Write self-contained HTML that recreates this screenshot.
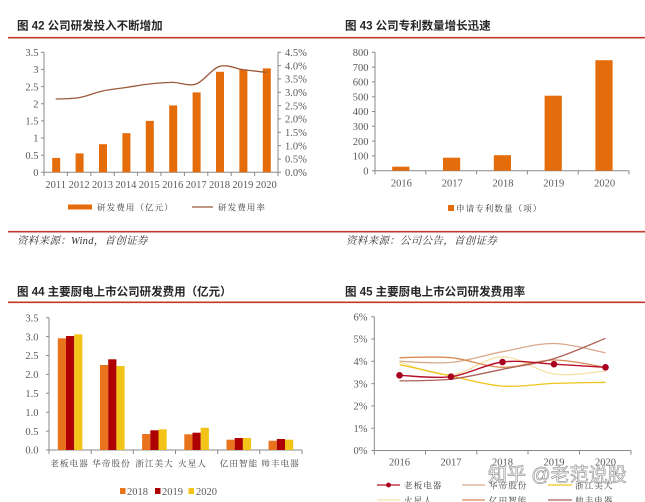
<!DOCTYPE html>
<html><head><meta charset="utf-8"><style>
html,body{margin:0;padding:0;background:#fff;}
svg{display:block;}
.t{font-family:"Liberation Sans","Noto Sans CJK SC",sans-serif;font-size:11.5px;font-weight:bold;fill:#262626;}
.n{font-family:"Liberation Serif","Noto Serif CJK SC",serif;font-size:10.5px;fill:#595959;}
.c{font-family:"Liberation Serif","Noto Serif CJK SC",serif;font-size:8.6px;letter-spacing:1px;fill:#404040;}
.s{font-family:"Liberation Serif","Noto Serif CJK SC",serif;font-size:10.5px;font-style:italic;fill:#333;letter-spacing:0.3px;}
.ax{stroke:#8a8a8a;stroke-width:1;fill:none;}
</style></head><body>
<svg width="645" height="502" viewBox="0 0 645 502" xmlns="http://www.w3.org/2000/svg">
<rect width="645" height="502" fill="#fff"/>
<!-- titles -->
<text class="t" x="17" y="29.5">图 42 公司研发投入不断增加</text>
<text class="t" x="345" y="29.5">图 43 公司专利数量增长迅速</text>
<text class="t" x="17" y="295.5">图 44 主要厨电上市公司研发费用（亿元）</text>
<text class="t" x="345" y="295.5">图 45 主要厨电上市公司研发费用率</text>
<line x1="8" y1="37.7" x2="645" y2="37.7" stroke="#C0392B" stroke-width="1.6"/>
<line x1="8" y1="231.7" x2="645" y2="231.7" stroke="#C0392B" stroke-width="1.6"/>
<line x1="8" y1="302.3" x2="645" y2="302.3" stroke="#C0392B" stroke-width="1.6"/>
<text class="s" x="17" y="244">资料来源：Wind，首创证券</text>
<text class="s" x="346" y="244">资料来源：公司公告，首创证券</text>

<!-- ===== Chart 42 ===== -->
<g>
<path class="ax" d="M44,52.3V172.3H278M278,52.3V172.3"/>
<path class="ax" d="M41,52.3H44M41,69.4H44M41,86.6H44M41,103.7H44M41,120.9H44M41,138H44M41,155.2H44M41,172.3H44"/>
<path class="ax" d="M278,52.3H281M278,65.6H281M278,78.9H281M278,92.3H281M278,105.6H281M278,118.9H281M278,132.3H281M278,145.6H281M278,159H281M278,172.3H281"/>
<path class="ax" d="M44,172.3V176M67.4,172.3V176M90.8,172.3V176M114.2,172.3V176M137.6,172.3V176M161,172.3V176M184.4,172.3V176M207.8,172.3V176M231.2,172.3V176M254.6,172.3V176M278,172.3V176"/>
<g class="n" text-anchor="end">
<text x="38.5" y="56">3.5</text><text x="38.5" y="73.1">3</text><text x="38.5" y="90.3">2.5</text><text x="38.5" y="107.4">2</text><text x="38.5" y="124.6">1.5</text><text x="38.5" y="141.7">1</text><text x="38.5" y="158.9">0.5</text><text x="38.5" y="176">0</text>
</g>
<g class="n">
<text x="285" y="56">4.5%</text><text x="285" y="69.3">4.0%</text><text x="285" y="82.6">3.5%</text><text x="285" y="96">3.0%</text><text x="285" y="109.3">2.5%</text><text x="285" y="122.6">2.0%</text><text x="285" y="136">1.5%</text><text x="285" y="149.3">1.0%</text><text x="285" y="162.7">0.5%</text><text x="285" y="176">0.0%</text>
</g>
<g fill="#E46C0A">
<rect x="52.2" y="157.9" width="8" height="14.4"/>
<rect x="75.6" y="153.4" width="8" height="18.9"/>
<rect x="99" y="144.2" width="8" height="28.1"/>
<rect x="122.4" y="133.2" width="8" height="39.1"/>
<rect x="145.8" y="120.9" width="8" height="51.4"/>
<rect x="169.2" y="105.4" width="8" height="66.9"/>
<rect x="192.6" y="92.4" width="8" height="79.9"/>
<rect x="216" y="71.8" width="8" height="100.5"/>
<rect x="239.4" y="69.4" width="8" height="102.9"/>
<rect x="262.8" y="68.4" width="8" height="103.9"/>
</g>
<path d="M55.7,99 C59.6,98.8 71.3,98.9 79.1,97.6 C86.9,96.3 94.7,92.7 102.5,91 C110.3,89.3 118.1,88.7 125.9,87.5 C133.7,86.3 141.5,84.9 149.3,84 C157.1,83.2 164.9,82.4 172.7,82.4 C180.5,82.4 188.3,86.7 196.1,84 C203.9,81.3 211.7,68.8 219.5,66.4 C227.3,64 235.1,68.6 242.9,69.6 C250.7,70.6 262.4,71.9 266.3,72.3" fill="none" stroke="#9C5A3A" stroke-width="1.3"/>
<g class="n" text-anchor="middle">
<text x="55.7" y="188">2011</text><text x="79.1" y="188">2012</text><text x="102.5" y="188">2013</text><text x="125.9" y="188">2014</text><text x="149.3" y="188">2015</text><text x="172.7" y="188">2016</text><text x="196.1" y="188">2017</text><text x="219.5" y="188">2018</text><text x="242.9" y="188">2019</text><text x="266.3" y="188">2020</text>
</g>
<rect x="68" y="204.5" width="24" height="5" fill="#E46C0A"/>
<text class="c" x="97" y="210.5">研发费用（亿元）</text>
<line x1="192" y1="207" x2="213" y2="207" stroke="#9C5A3A" stroke-width="1.3"/>
<text class="c" x="218" y="210.5">研发费用率</text>
</g>

<!-- ===== Chart 43 ===== -->
<g>
<path class="ax" d="M375,52.3V170.7H629"/>
<path class="ax" d="M372,52.3H375M372,67.1H375M372,81.9H375M372,96.7H375M372,111.5H375M372,126.3H375M372,141.1H375M372,155.9H375M372,170.7H375"/>
<path class="ax" d="M375,170.7V174.5M425.8,170.7V174.5M476.6,170.7V174.5M527.4,170.7V174.5M578.2,170.7V174.5M629,170.7V174.5"/>
<g class="n" text-anchor="end">
<text x="368.5" y="56">800</text><text x="368.5" y="70.8">700</text><text x="368.5" y="85.6">600</text><text x="368.5" y="100.4">500</text><text x="368.5" y="115.2">400</text><text x="368.5" y="130">300</text><text x="368.5" y="144.8">200</text><text x="368.5" y="159.6">100</text><text x="368.5" y="174.4">0</text>
</g>
<g fill="#E46C0A">
<rect x="392.2" y="166.7" width="17.2" height="4"/>
<rect x="443" y="157.7" width="17.2" height="13"/>
<rect x="493.8" y="155.2" width="17.2" height="15.5"/>
<rect x="544.6" y="95.7" width="17.2" height="75"/>
<rect x="595.4" y="60.2" width="17.2" height="110.5"/>
</g>
<g class="n" text-anchor="middle">
<text x="401.4" y="186.5">2016</text><text x="452.2" y="186.5">2017</text><text x="503" y="186.5">2018</text><text x="553.8" y="186.5">2019</text><text x="604.6" y="186.5">2020</text>
</g>
<rect x="448" y="205" width="6" height="6" fill="#E46C0A"/>
<text class="c" x="456" y="211.5">申请专利数量（项）</text>
</g>

<!-- ===== Chart 44 ===== -->
<g>
<path class="ax" d="M49,317.7V450H302"/>
<path class="ax" d="M46,317.7H49M46,336.6H49M46,355.5H49M46,374.4H49M46,393.3H49M46,412.2H49M46,431.1H49M46,450H49"/>
<path class="ax" d="M49,450V454M91.2,450V454M133.3,450V454M175.5,450V454M217.7,450V454M259.8,450V454M302,450V454"/>
<g class="n" text-anchor="end">
<text x="38.5" y="321.4">3.5</text><text x="38.5" y="340.3">3.0</text><text x="38.5" y="359.2">2.5</text><text x="38.5" y="378.1">2.0</text><text x="38.5" y="397">1.5</text><text x="38.5" y="415.9">1.0</text><text x="38.5" y="434.8">0.5</text><text x="38.5" y="453.7">0.0</text>
</g>
<g fill="#E8731C">
<rect x="57.8" y="338.3" width="8.2" height="111.7"/>
<rect x="100" y="365" width="8.2" height="85"/>
<rect x="142.1" y="434" width="8.2" height="16"/>
<rect x="184.3" y="434.3" width="8.2" height="15.7"/>
<rect x="226.5" y="439.7" width="8.2" height="10.3"/>
<rect x="268.6" y="440.7" width="8.2" height="9.3"/>
</g>
<g fill="#AE0000">
<rect x="66" y="336" width="8.2" height="114"/>
<rect x="108.2" y="359.3" width="8.2" height="90.7"/>
<rect x="150.3" y="430.3" width="8.2" height="19.7"/>
<rect x="192.5" y="432.7" width="8.2" height="17.3"/>
<rect x="234.7" y="438" width="8.2" height="12"/>
<rect x="276.8" y="439" width="8.2" height="11"/>
</g>
<g fill="#F2C318">
<rect x="74.2" y="334.3" width="8.2" height="115.7"/>
<rect x="116.4" y="366" width="8.2" height="84"/>
<rect x="158.5" y="429.3" width="8.2" height="20.7"/>
<rect x="200.7" y="427.7" width="8.2" height="22.3"/>
<rect x="242.9" y="438" width="8.2" height="12"/>
<rect x="285" y="439.7" width="8.2" height="10.3"/>
</g>
<g class="c" text-anchor="middle">
<text x="69.5" y="466.5">老板电器</text><text x="111.5" y="466.5">华帝股份</text><text x="154.5" y="466.5">浙江美大</text><text x="192.5" y="466.5">火星人</text><text x="239" y="466.5">亿田智能</text><text x="280.5" y="466.5">帅丰电器</text>
</g>
<rect x="120" y="488" width="5.5" height="6" fill="#E8731C"/>
<text class="n" x="127" y="495">2018</text>
<rect x="155" y="488" width="5.5" height="6" fill="#AE0000"/>
<text class="n" x="162" y="495">2019</text>
<rect x="188.5" y="488" width="5.5" height="6" fill="#F2C318"/>
<text class="n" x="196" y="495">2020</text>
</g>

<!-- ===== Chart 45 ===== -->
<g>
<path class="ax" d="M374.3,316.7V450.5H631"/>
<path class="ax" d="M371.3,316.7H374.3M371.3,339H374.3M371.3,361.3H374.3M371.3,383.6H374.3M371.3,405.9H374.3M371.3,428.2H374.3M371.3,450.5H374.3"/>
<path class="ax" d="M374.3,450.5V454.5M425.5,450.5V454.5M476.8,450.5V454.5M528,450.5V454.5M579.5,450.5V454.5M631,450.5V454.5"/>
<g class="n" text-anchor="end">
<text x="367.5" y="320.4">6%</text><text x="367.5" y="342.7">5%</text><text x="367.5" y="365">4%</text><text x="367.5" y="387.3">3%</text><text x="367.5" y="409.6">2%</text><text x="367.5" y="431.9">1%</text><text x="367.5" y="454.2">0%</text>
</g>
<g fill="none" stroke-width="1.3">
<path stroke="#F6E2A6" d="M399.5,362.4 C408.1,364.5 433.8,375.6 451,374.7 C468.2,373.8 485.3,356.9 502.5,356.8 C519.7,356.7 536.8,371.6 554,374 C571.2,376.4 596.9,371.6 605.5,371.1"/>
<path stroke="#F0C419" d="M399.5,364.6 C408.1,366.5 433.8,372.4 451,376 C468.2,379.6 485.3,384.9 502.5,386.1 C519.7,387.3 536.8,384 554,383.4 C571.2,382.8 596.9,382.5 605.5,382.3"/>
<path stroke="#D9A98C" d="M399.5,361.3 C408.1,361.5 433.8,364 451,362.4 C468.2,360.8 485.3,354.9 502.5,351.7 C519.7,348.6 536.8,343.3 554,343.5 C571.2,343.7 596.9,351.3 605.5,352.8"/>
<path stroke="#D98A55" d="M399.5,357.7 C408.1,357.7 433.8,356.1 451,357.7 C468.2,359.3 485.3,366.9 502.5,367.3 C519.7,367.7 536.8,360 554,360 C571.2,360 596.9,366.1 605.5,367.3"/>
<path stroke="#B0625A" d="M399.5,380.9 C408.1,380.6 433.8,381 451,379.1 C468.2,377.2 485.3,372.7 502.5,369.3 C519.7,365.9 536.8,363.8 554,358.6 C571.2,353.4 596.9,341.7 605.5,338.3"/>
<path stroke="#B8102A" stroke-width="1.4" d="M399.5,375.3 C408.1,375.5 433.8,378.9 451,376.7 C468.2,374.5 485.3,364.1 502.5,362 C519.7,359.9 536.8,363.3 554,364.2 C571.2,365.1 596.9,366.8 605.5,367.3"/>
</g>
<g fill="#A8001E">
<circle cx="399.5" cy="375.3" r="3.3"/><circle cx="451" cy="376.7" r="3.3"/><circle cx="502.5" cy="362" r="3.3"/><circle cx="554" cy="364.2" r="3.3"/><circle cx="605.5" cy="367.3" r="3.3"/>
</g>
<g class="n" text-anchor="middle">
<text x="399.5" y="465.5">2016</text><text x="451" y="465.5">2017</text><text x="502.5" y="465.5">2018</text><text x="554" y="465.5">2019</text><text x="605.5" y="465.5">2020</text>
</g>
<!-- legend -->
<line x1="377" y1="485" x2="400" y2="485" stroke="#B8102A" stroke-width="1.3"/>
<circle cx="388.5" cy="485" r="2.4" fill="#A8001E"/>
<text class="c" x="404" y="488.5">老板电器</text>
<line x1="462" y1="485" x2="485" y2="485" stroke="#D9A98C" stroke-width="1.3"/>
<text class="c" x="489" y="488.5">华帝股份</text>
<line x1="548" y1="485" x2="572" y2="485" stroke="#F0C419" stroke-width="1.3"/>
<text class="c" x="575" y="488.5">浙江美大</text>
<line x1="377" y1="500" x2="400" y2="500" stroke="#F6E2A6" stroke-width="1.3"/>
<text class="c" x="404" y="503.5">火星人</text>
<line x1="462" y1="500" x2="485" y2="500" stroke="#D98A55" stroke-width="1.3"/>
<text class="c" x="489" y="503.5">亿田智能</text>
<line x1="548" y1="500" x2="572" y2="500" stroke="#B0625A" stroke-width="1.3"/>
<text class="c" x="575" y="503.5">帅丰电器</text>
</g>
<!-- watermark -->
<text x="488" y="481" font-family="'Liberation Sans','Noto Sans CJK SC',sans-serif" font-size="19" fill="#ffffff" fill-opacity="0.85" stroke="#9a9a9a" stroke-width="0.7">知乎 @老范说股</text>
</svg>
</body></html>
